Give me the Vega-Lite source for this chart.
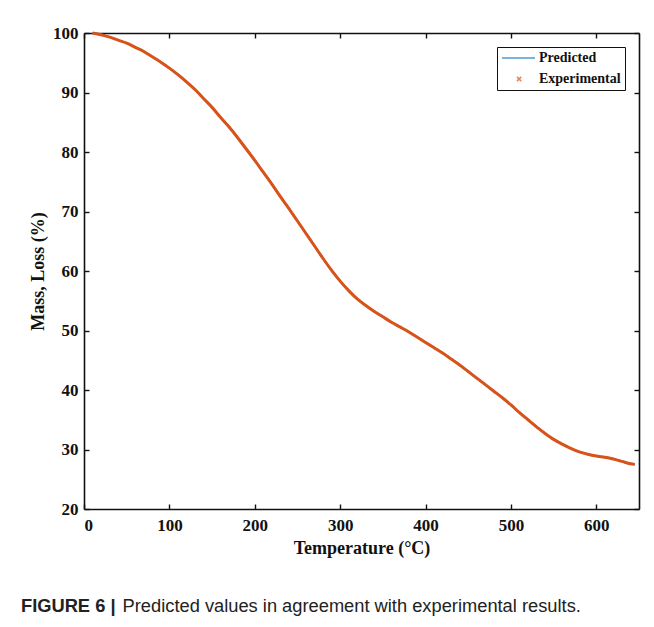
{
  "$schema": "https://vega.github.io/schema/vega-lite/v6.json",
  "width": 555,
  "height": 476,
  "autosize": {"type": "none"},
  "padding": {"left": 84, "top": 33, "right": 15, "bottom": 118},
  "background": "white",
  "config": {
    "view": {"stroke": null},
    "axis": {
      "domainColor": "#111", "domainWidth": 1.6, "tickColor": "#111", "tickWidth": 1.4, "tickSize": -5,
      "grid": false, "labelFont": "Liberation Serif", "labelFontWeight": "bold", "labelFontSize": 17,
      "labelColor": "#111", "titleFont": "Liberation Serif", "titleFontWeight": "bold", "titleFontSize": 18, "titleColor": "#111"
    }
  },
  "title": {
    "text": "FIGURE 6 |",
    "subtitle": "\u200b\u00a0\u00a0\u00a0\u00a0\u00a0\u00a0\u00a0\u00a0\u00a0\u00a0\u00a0\u00a0\u00a0\u00a0\u00a0\u00a0\u00a0\u00a0\u00a0\u00a0Predicted values in agreement with experimental results.",
    "orient": "bottom", "anchor": "start", "frame": "group", "offset": 41, "dx": -63,
    "font": "Liberation Sans", "fontSize": 18.3, "fontWeight": "bold", "color": "#222",
    "subtitleFont": "Liberation Sans", "subtitleFontSize": 18.3, "subtitleFontWeight": "normal", "subtitleColor": "#222",
    "subtitlePadding": -18.3
  },
  "datasets": {
    "tga": [
      {"T": 10, "Predicted": 100.0, "Experimental": 100.0},
      {"T": 20, "Predicted": 99.7, "Experimental": 99.7},
      {"T": 30, "Predicted": 99.3, "Experimental": 99.3},
      {"T": 40, "Predicted": 98.8, "Experimental": 98.8},
      {"T": 50, "Predicted": 98.3, "Experimental": 98.3},
      {"T": 60, "Predicted": 97.6, "Experimental": 97.6},
      {"T": 70, "Predicted": 96.9, "Experimental": 96.9},
      {"T": 80, "Predicted": 96.0, "Experimental": 96.0},
      {"T": 90, "Predicted": 95.1, "Experimental": 95.1},
      {"T": 100, "Predicted": 94.1, "Experimental": 94.1},
      {"T": 110, "Predicted": 93.0, "Experimental": 93.0},
      {"T": 120, "Predicted": 91.8, "Experimental": 91.8},
      {"T": 130, "Predicted": 90.5, "Experimental": 90.5},
      {"T": 140, "Predicted": 89.0, "Experimental": 89.0},
      {"T": 150, "Predicted": 87.5, "Experimental": 87.5},
      {"T": 160, "Predicted": 85.8, "Experimental": 85.8},
      {"T": 170, "Predicted": 84.2, "Experimental": 84.2},
      {"T": 180, "Predicted": 82.4, "Experimental": 82.4},
      {"T": 190, "Predicted": 80.5, "Experimental": 80.5},
      {"T": 200, "Predicted": 78.6, "Experimental": 78.6},
      {"T": 210, "Predicted": 76.6, "Experimental": 76.6},
      {"T": 220, "Predicted": 74.6, "Experimental": 74.6},
      {"T": 230, "Predicted": 72.5, "Experimental": 72.5},
      {"T": 240, "Predicted": 70.5, "Experimental": 70.5},
      {"T": 250, "Predicted": 68.4, "Experimental": 68.4},
      {"T": 260, "Predicted": 66.3, "Experimental": 66.3},
      {"T": 270, "Predicted": 64.2, "Experimental": 64.2},
      {"T": 280, "Predicted": 62.1, "Experimental": 62.1},
      {"T": 290, "Predicted": 60.1, "Experimental": 60.1},
      {"T": 300, "Predicted": 58.3, "Experimental": 58.3},
      {"T": 310, "Predicted": 56.7, "Experimental": 56.7},
      {"T": 320, "Predicted": 55.3, "Experimental": 55.3},
      {"T": 330, "Predicted": 54.2, "Experimental": 54.2},
      {"T": 340, "Predicted": 53.2, "Experimental": 53.2},
      {"T": 350, "Predicted": 52.3, "Experimental": 52.3},
      {"T": 360, "Predicted": 51.4, "Experimental": 51.4},
      {"T": 370, "Predicted": 50.6, "Experimental": 50.6},
      {"T": 380, "Predicted": 49.8, "Experimental": 49.8},
      {"T": 390, "Predicted": 48.9, "Experimental": 48.9},
      {"T": 400, "Predicted": 48.0, "Experimental": 48.0},
      {"T": 410, "Predicted": 47.1, "Experimental": 47.1},
      {"T": 420, "Predicted": 46.2, "Experimental": 46.2},
      {"T": 430, "Predicted": 45.2, "Experimental": 45.2},
      {"T": 440, "Predicted": 44.2, "Experimental": 44.2},
      {"T": 450, "Predicted": 43.1, "Experimental": 43.1},
      {"T": 460, "Predicted": 42.0, "Experimental": 42.0},
      {"T": 470, "Predicted": 40.9, "Experimental": 40.9},
      {"T": 480, "Predicted": 39.8, "Experimental": 39.8},
      {"T": 490, "Predicted": 38.7, "Experimental": 38.7},
      {"T": 500, "Predicted": 37.5, "Experimental": 37.5},
      {"T": 510, "Predicted": 36.2, "Experimental": 36.2},
      {"T": 520, "Predicted": 35.0, "Experimental": 35.0},
      {"T": 530, "Predicted": 33.8, "Experimental": 33.8},
      {"T": 540, "Predicted": 32.7, "Experimental": 32.7},
      {"T": 550, "Predicted": 31.7, "Experimental": 31.7},
      {"T": 560, "Predicted": 30.9, "Experimental": 30.9},
      {"T": 570, "Predicted": 30.2, "Experimental": 30.2},
      {"T": 580, "Predicted": 29.6, "Experimental": 29.6},
      {"T": 590, "Predicted": 29.2, "Experimental": 29.2},
      {"T": 600, "Predicted": 28.9, "Experimental": 28.9},
      {"T": 610, "Predicted": 28.7, "Experimental": 28.7},
      {"T": 620, "Predicted": 28.4, "Experimental": 28.4},
      {"T": 630, "Predicted": 28.0, "Experimental": 28.0},
      {"T": 640, "Predicted": 27.6, "Experimental": 27.6},
      {"T": 645, "Predicted": 27.5, "Experimental": 27.5}
    ]
  },
  "data": {"name": "tga"},
  "transform": [{"fold": ["Predicted", "Experimental"], "as": ["series", "mass"]}],
  "layer": [
    {
      "transform": [{"filter": "datum.series === 'Predicted'"}],
      "mark": {"type": "line", "strokeWidth": 2, "interpolate": "monotone"},
      "encoding": {
        "x": {"field": "T", "type": "quantitative", "scale": {"domain": [0, 650], "nice": false, "zero": false},
              "axis": {"orient": "top", "labels": false, "title": null, "values": [0, 100, 200, 300, 400, 500, 600]}},
        "y": {"field": "mass", "type": "quantitative", "scale": {"domain": [20, 100], "nice": false, "zero": false},
              "axis": {"orient": "right", "labels": false, "title": null, "values": [20, 30, 40, 50, 60, 70, 80, 90, 100]}},
        "color": {"field": "series", "type": "nominal",
                  "scale": {"domain": ["Predicted", "Experimental"], "range": ["#0072BD", "#D95319"]}}
      }
    },
    {
      "transform": [{"filter": "datum.series === 'Experimental'"}],
      "mark": {"type": "line", "strokeWidth": 3, "interpolate": "monotone"},
      "encoding": {
        "x": {"field": "T", "type": "quantitative",
              "axis": {"orient": "bottom", "title": "Temperature (°C)", "values": [0, 100, 200, 300, 400, 500, 600], "labelPadding": 13, "titlePadding": 6}},
        "y": {"field": "mass", "type": "quantitative",
              "axis": {"orient": "left", "title": "Mass, Loss (%)", "values": [20, 30, 40, 50, 60, 70, 80, 90, 100], "labelPadding": 11, "titlePadding": 5}},
        "color": {"field": "series", "type": "nominal"}
      }
    },
    {
      "transform": [{"filter": "false"}],
      "mark": {"type": "point", "size": 12, "strokeWidth": 1, "filled": false},
      "encoding": {
        "x": {"field": "T", "type": "quantitative", "axis": null},
        "y": {"field": "mass", "type": "quantitative", "axis": null},
        "color": {"field": "series", "type": "nominal"},
        "shape": {"field": "series", "type": "nominal",
                  "scale": {"domain": ["Predicted", "Experimental"], "range": ["M-2,0L9,0", "M3,-0.7L4.4,0.7M4.4,-0.7L3,0.7"]},
                  "legend": {"title": null, "orient": "top-right", "offset": 14, "strokeColor": "#111", "fillColor": "white",
                             "padding": 4, "labelFont": "Liberation Serif", "labelFontWeight": "bold", "labelFontSize": 14,
                             "labelColor": "#111", "labelOffset": 24, "symbolSize": 36, "symbolStrokeWidth": 1.5, "rowPadding": 7}}
      }
    }
  ]
}
